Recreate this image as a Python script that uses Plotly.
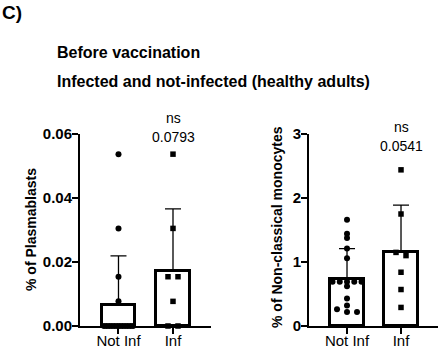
import plotly.graph_objects as go

# ---------------- data ----------------
groups = ["Not Inf", "Inf"]

plasma_notinf = [0.0537, 0.0305, 0.0154, 0.0077] + [0.0] * 12
plasma_inf = [0.0537, 0.0305, 0.0154, 0.0154, 0.0077, 0.0, 0.0]
plasma_mean = [0.0066, 0.0172]
plasma_sd = [0.0153, 0.0194]
plasma_p = "0.0793"

mono_notinf = [1.66, 1.44, 1.375, 1.21, 1.06, 0.69, 0.69, 0.69, 0.69, 0.69,
               0.62, 0.43, 0.32, 0.26, 0.22, 0.22]
mono_inf = [2.44, 1.75, 1.15, 1.10, 0.84, 0.57, 0.29]
mono_mean = [0.734, 1.16]
mono_sd = [0.476, 0.73]
mono_p = "0.0541"

# ---------------- layout constants ----------------
W, H = 440, 350
FONT = "Liberation Sans"
Y_TOP, Y_BOT = 134, 326
L_X0, L_X1 = 80, 211
R_X0, R_X1 = 309, 438
L_XR = [-0.706, 1.697]
R_XR = [-0.704, 1.685]
L_YR = [0, 0.06]
R_YR = [0, 3]


def swarm(vals, center, ypx, xpx, thresh=3.5, max_sp=10.0, max_w=29.0):
    order = sorted(range(len(vals)), key=lambda i: -vals[i])
    rows = []
    for i in order:
        if rows and abs(vals[rows[-1][0]] - vals[i]) * ypx < thresh:
            rows[-1].append(i)
        else:
            rows.append([i])
    xs = [center] * len(vals)
    for r in rows:
        n = len(r)
        if n == 1:
            continue
        sp = min(max_sp, max_w / (n - 1))
        for k, i in enumerate(r):
            xs[i] = center + (k - (n - 1) / 2) * sp / xpx
    return xs


fig = go.Figure()


def panel(means, sds, pts_a, pts_b, xr, yr, x0, x1, xa, ya):
    xpx = (x1 - x0) / (xr[1] - xr[0])
    ypx = (Y_BOT - Y_TOP) / (yr[1] - yr[0])
    fig.add_trace(go.Bar(
        x=[0, 1], y=means, width=0.62, xaxis=xa, yaxis=ya,
        marker=dict(color="white", line=dict(color="black", width=3)),
        error_y=dict(type="data", symmetric=False, array=sds, arrayminus=[0, 0],
                     color="black", thickness=1.3, width=8),
        cliponaxis=False, showlegend=False, hoverinfo="skip"))
    fig.add_trace(go.Scatter(
        x=swarm(pts_a, 0, ypx, xpx), y=pts_a, mode="markers", xaxis=xa, yaxis=ya,
        marker=dict(symbol="circle", size=6, color="black"),
        cliponaxis=False, showlegend=False))
    fig.add_trace(go.Scatter(
        x=swarm(pts_b, 1, ypx, xpx), y=pts_b, mode="markers", xaxis=xa, yaxis=ya,
        marker=dict(symbol="square", size=5.5, color="black"),
        cliponaxis=False, showlegend=False))


panel(plasma_mean, plasma_sd, plasma_notinf, plasma_inf, L_XR, L_YR, L_X0, L_X1, "x", "y")
panel(mono_mean, mono_sd, mono_notinf, mono_inf, R_XR, R_YR, R_X0, R_X1, "x2", "y2")

ydom = [1 - Y_BOT / H, 1 - Y_TOP / H]
axis_common = dict(showline=True, linewidth=2, linecolor="black", ticks="outside",
                   ticklen=6, tickwidth=2, tickcolor="black", showgrid=False,
                   zeroline=False, fixedrange=True, automargin=False)
xfont = dict(family=FONT, size=15, color="black")
yfont = dict(family=FONT, size=15, color="black", weight="bold")

fig.update_layout(
    width=W, height=H, margin=dict(l=0, r=0, t=0, b=0, autoexpand=False),
    paper_bgcolor="white", plot_bgcolor="white", bargap=0,
    xaxis=dict(domain=[L_X0 / W, L_X1 / W], range=L_XR, tickvals=[0, 1], ticktext=groups,
               tickfont=xfont, anchor="y", ticklabelstandoff=-6, **axis_common),
    yaxis=dict(domain=ydom, range=L_YR, tickvals=[0, 0.02, 0.04, 0.06], tickformat=".2f",
               tickfont=yfont, anchor="x", ticklabelstandoff=-3, **axis_common),
    xaxis2=dict(domain=[R_X0 / W, R_X1 / W], range=R_XR, tickvals=[0, 1], ticktext=groups,
                tickfont=xfont, anchor="y2", ticklabelstandoff=-6, **axis_common),
    yaxis2=dict(domain=ydom, range=R_YR, tickvals=[0, 1, 2, 3],
                tickfont=yfont, anchor="x2", ticklabelstandoff=-3, **axis_common),
)


def py(p):
    return 1 - p / H


anns = [
    dict(text="<b>C)</b>", x=0, y=py(0), xanchor="left", yanchor="top", size=19),
    dict(text="<b>Before vaccination</b>", x=55 / W, y=py(52), xanchor="left",
         yanchor="middle", size=16),
    dict(text="<b>Infected and not-infected (healthy adults)</b>", x=55 / W, y=py(81),
         xanchor="left", yanchor="middle", size=16),
]
for a in anns:
    fig.add_annotation(text=a["text"], x=a["x"], y=a["y"], xref="paper", yref="paper",
                       xanchor=a["xanchor"], yanchor=a["yanchor"], showarrow=False,
                       font=dict(family=FONT, size=a["size"], color="black"))

# axis titles
fig.add_annotation(text="<b>% of Plasmablasts</b>", x=31 / W, y=py(230), xref="paper",
                   yref="paper", textangle=-90, showarrow=False, xanchor="center",
                   yanchor="middle", font=dict(family=FONT, size=14, color="black"))
fig.add_annotation(text="<b>% of Non-classical monocytes</b>", x=277 / W, y=py(227),
                   xref="paper", yref="paper", textangle=-90, showarrow=False,
                   xanchor="center", yanchor="middle",
                   font=dict(family=FONT, size=14, color="black"))

# significance labels
for xa, txt, y_ns, y_p in [("x", plasma_p, 118, 137), ("x2", mono_p, 127, 146)]:
    fig.add_annotation(text="ns", x=1, y=py(y_ns), xref=xa, yref="paper", showarrow=False,
                       xanchor="center", yanchor="middle",
                       font=dict(family=FONT, size=14, color="black"))
    fig.add_annotation(text=txt, x=1, y=py(y_p), xref=xa, yref="paper", showarrow=False,
                       xanchor="center", yanchor="middle",
                       font=dict(family=FONT, size=14, color="black"))

fig.write_html("out.html", config={"displayModeBar": False},
               post_script="document.body.style.margin='0';")
